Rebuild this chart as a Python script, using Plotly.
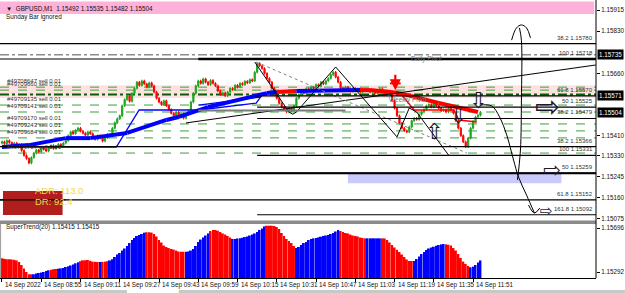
import plotly.graph_objects as go

# ---------------- data ----------------
# close prices of GBPUSD M1 bars, in 1e-5 units above 1.0 (15385 -> 1.15385)
closes_pts = [
    15385, 15378, 15390, 15382, 15372, 15380, 15368, 15375,
    15350, 15330, 15318, 15300,
    15322, 15340, 15352, 15345, 15360, 15355, 15348, 15362, 15370, 15358, 15366, 15375, 15368, 15380, 15390,
    15410, 15425, 15418, 15432, 15440, 15428, 15420,
    15412, 15425, 15418, 15405, 15395, 15410, 15400, 15388, 15402, 15415, 15408,
    15440, 15462, 15478, 15490,
    15530, 15555, 15570, 15548, 15580,
    15600, 15625, 15612, 15630, 15618, 15605, 15622, 15610,
    15585, 15560, 15545, 15535, 15550, 15530,
    15515, 15500, 15490, 15505, 15485, 15498, 15480, 15495, 15510,
    15545, 15580, 15610, 15630,
    15620, 15638, 15625, 15615, 15632, 15620, 15610,
    15590, 15575, 15582, 15570, 15585,
    15600, 15595, 15612, 15605, 15620, 15615, 15628, 15622, 15635, 15630,
    15665, 15700, 15690,
    15680, 15660, 15640, 15625, 15600, 15585, 15560, 15540, 15525,
    15515, 15505, 15520, 15510, 15530,
    15560, 15575, 15590, 15580, 15598, 15590, 15605,
    15600, 15615, 15608, 15625, 15618, 15630, 15640, 15655, 15665, 15645, 15625,
    15600, 15592, 15605, 15595, 15588, 15600, 15590, 15598, 15585, 15595, 15590,
    15595, 15585, 15592, 15580, 15590, 15598, 15585, 15578, 15590, 15580,
    15550, 15520, 15490, 15460, 15440, 15430,
    15425, 15445,
    15470, 15480, 15475, 15495, 15505, 15515,
    15530, 15535, 15525, 15540, 15530,
    15520, 15510, 15515, 15505, 15520, 15512, 15500,
    15470, 15440, 15410, 15385, 15365,
    15400, 15440, 15468, 15485, 15492, 15504,
]
first_open_pts = 15380

# SuperTrend(20) histogram values (same units)
st_pts = [
    15418, 15413, 15409, 15409, 15407, 15404, 15398, 15384, 15356, 15324,
    15292, 15272, 15271, 15271, 15278, 15283, 15287, 15292, 15301, 15308,
    15312, 15317, 15320, 15322, 15325, 15329, 15338, 15344, 15352, 15361,
    15372, 15381, 15391, 15399, 15400, 15402, 15395, 15387, 15386, 15384,
    15384, 15385, 15387, 15391, 15398, 15409, 15430, 15453, 15466, 15489,
    15508, 15531, 15558, 15586, 15604, 15623, 15632, 15641, 15653, 15657,
    15657, 15654, 15641, 15618, 15586, 15563, 15535, 15522, 15512, 15503,
    15498, 15489, 15480, 15478, 15478, 15478, 15480, 15489, 15503, 15531,
    15567, 15590, 15609, 15627, 15646, 15668, 15678, 15678, 15671, 15659,
    15646, 15636, 15623, 15609, 15595, 15595, 15600, 15601, 15606, 15613,
    15618, 15627, 15636, 15646, 15659, 15678, 15691, 15710, 15717, 15717,
    15717, 15714, 15705, 15687, 15650, 15623, 15595, 15577, 15558, 15531,
    15512, 15522, 15540, 15558, 15567, 15586, 15595, 15601, 15604, 15609,
    15616, 15623, 15627, 15632, 15641, 15650, 15664, 15678, 15668, 15659,
    15650, 15646, 15636, 15627, 15623, 15618, 15609, 15604, 15601, 15601,
    15601, 15601, 15601, 15601, 15601, 15601, 15600, 15586, 15563, 15540,
    15517, 15497, 15476, 15453, 15430, 15407, 15393, 15393, 15393, 15411,
    15434, 15457, 15476, 15494, 15508, 15517, 15524, 15533, 15540, 15545,
    15549, 15546, 15542, 15535, 15512, 15489, 15457, 15421, 15388, 15366,
    15347, 15335, 15341, 15356, 15379, 15398,
]
st_label_value = 1.15415
# colour runs of the SuperTrend histogram (r = down trend, b = up trend)
st_runs = [("r", 13), ("b", 7), ("r", 3), ("b", 9), ("r", 8), ("b", 1), ("r", 3),
           ("b", 15), ("r", 16), ("b", 10), ("r", 9), ("b", 14), ("r", 12),
           ("b", 18), ("r", 11), ("b", 6), ("r", 13), ("b", 13), ("r", 10), ("b", 5)]

time_labels = ["14 Sep 2022", "14 Sep 08:55", "14 Sep 09:11", "14 Sep 09:27", "14 Sep 09:43",
               "14 Sep 09:59", "14 Sep 10:15", "14 Sep 10:31", "14 Sep 10:47", "14 Sep 11:03",
               "14 Sep 11:19", "14 Sep 11:35", "14 Sep 11:51"]
time_label_bars = [0, 16, 32, 48, 64, 80, 96, 112, 128, 144, 160, 176, 192]

price_ticks = [1.15915, 1.15830, 1.15660, 1.15410, 1.15330, 1.15245, 1.15160, 1.15075]
boxed_prices = [1.15735, 1.15571, 1.15504]
st_ticks = [1.15696, 1.15292]

# Fibonacci levels: (level, price, first bar; None = whole chart)
fib_levels = [("38.2", 1.15780, None), ("100", 1.15718, None), ("61.8", 1.15570, 103),
              ("50", 1.15525, 104), ("38.2", 1.15479, 104), ("38.2", 1.15366, None),
              ("100", 1.15331, 104), ("50", 1.15259, None), ("61.8", 1.15152, None),
              ("161.8", 1.15092, 104)]
daily_pivot = 1.15735
weekly_pivot = 1.15575
pivot_zone = (1.15561, 1.15613)
target_zone = (141, 1.15219, 1.15259)  # first bar, low, high

order_prices = [1.15605, 1.15593, 1.15533, 1.15505, 1.15457, 1.15429, 1.15401, 1.15340]
order_labels = ["#49708647 sell 0.01", "#49709660 sell 0.01", "#49709135 sell 0.01",
                "#49709141 sell 0.01", "#49709170 sell 0.01", "#49709243 sell 0.01",
                "#49709684 sell 0.01", "#49709707 sell 0.01"]

# moving average knots and segment colours
ma_bars = [0, 11, 26, 36, 51, 67, 72, 84, 108, 112, 120, 146, 150, 162, 178, 194]
ma_vals = [1.15364, 1.15372, 1.15400, 1.15400, 1.15421, 1.15473, 1.15485, 1.15525,
           1.15581, 1.15585, 1.15589, 1.15593, 1.15593, 1.15581, 1.15541, 1.15505]
ma_seg_colors = ["b", "b", "b", "b", "b", "b", "b", "b", "b", "r", "b", "r", "r", "r", "r"]

thin_blue_bars = [0, 46.6, 55.9, 80.2, 103.6, 106.5]
thin_blue_vals = [1.15364, 1.15364, 1.15513, 1.15513, 1.15541, 1.15581]
thin_blue2_bars = [80.2, 105.5]
thin_blue2_vals = [1.15533, 1.15565]
thin_red_bars = [158, 162.3, 168, 184.2, 186.2, 193.5]
thin_red_vals = [1.15590, 1.15581, 1.15513, 1.15513, 1.15473, 1.15465]

trend_bars = [75, 242]
trend_vals = [1.15461, 1.15694]
zigzag_bars = [103, 117, 118.5, 120, 136, 161, 166, 169, 182]
zigzag_vals = [1.15706, 1.15505, 1.15496, 1.15505, 1.15686, 1.15405, 1.15521, 1.15505, 1.15332]
dotted_bars = [103.6, 189.5]
dotted_vals = [1.15706, 1.15340]
grey_line = (80, 140, 1.15511)
hi_line_start = 80

curve_down_bars = [194.7, 199.6, 202.8, 205.7, 208.5, 210.5, 213.8, 217]
curve_down_vals = [1.15533, 1.15529, 1.15485, 1.15413, 1.15312, 1.15244, 1.15171, 1.15099]
head_down_bars = [214.6, 217, 219.2]
head_down_vals = [1.15131, 1.15099, 1.15119]
curve_up_bars = [210.1, 211.3, 211.7, 211.7, 210.9]
curve_up_vals = [1.15232, 1.15352, 1.15553, 1.15794, 1.15843]
head_up_bars = [207.7, 209.7, 211.7, 213.8, 215.4]
head_up_vals = [1.15794, 1.15843, 1.15855, 1.15843, 1.15803]

hollow_arrows = [("⇨", 222.4, 1.15529, 30), ("⇨", 224.3, 1.15272, 21), ("⇨", 221.8, 1.15107, 15),
                 ("⇩", 193.9, 1.15553, 22), ("⇩", 185.8, 1.15489, 22), ("⇧", 176.1, 1.15425, 22)]
signal_bar, signal_price = 160.3, 1.15592

# ---------------- figure ----------------
FONT = "Liberation Sans"
XMIN, XMAX = -0.81, 242.1
TOP_RANGE = [1.150629, 1.159552]
SUB_RANGE = [1.152369, 1.157327]
H_PLOT = 278.0


def py(pix):
    return (H_PLOT - pix) / H_PLOT


n = len(closes_pts)
idx = list(range(n))
close = [1 + v / 1e5 for v in closes_pts]
opens = [1 + first_open_pts / 1e5] + close[:-1]
high = [max(o, c) + 0.00005 for o, c in zip(opens, close)]
low = [min(o, c) - 0.00005 for o, c in zip(opens, close)]

fig = go.Figure()

fig.add_trace(go.Candlestick(
    x=idx, open=opens, high=high, low=low, close=close,
    increasing=dict(line=dict(color="#1FA51F", width=1), fillcolor="#1FA51F"),
    decreasing=dict(line=dict(color="#FF0000", width=1), fillcolor="#FF0000"),
    xaxis="x", yaxis="y", hoverinfo="skip", showlegend=False))

# thin blue / red channel lines
fig.add_trace(go.Scatter(x=thin_blue_bars, y=thin_blue_vals, mode="lines",
                         line=dict(color="#0000FF", width=1.3), yaxis="y", showlegend=False))
fig.add_trace(go.Scatter(x=thin_blue2_bars, y=thin_blue2_vals, mode="lines",
                         line=dict(color="#0000FF", width=1.3), yaxis="y", showlegend=False))
fig.add_trace(go.Scatter(x=thin_red_bars, y=thin_red_vals, mode="lines",
                         line=dict(color="#FF0000", width=1.5), yaxis="y", showlegend=False))

# thick moving average
for k, col in enumerate(ma_seg_colors):
    fig.add_trace(go.Scatter(x=ma_bars[k:k + 2], y=ma_vals[k:k + 2], mode="lines",
                             line=dict(color="#0000FF" if col == "b" else "#FF0000", width=4),
                             yaxis="y", showlegend=False))

# trend line, zigzag, dotted
fig.add_trace(go.Scatter(x=trend_bars, y=trend_vals, mode="lines",
                         line=dict(color="#000000", width=1), yaxis="y", showlegend=False))
fig.add_trace(go.Scatter(x=zigzag_bars, y=zigzag_vals, mode="lines",
                         line=dict(color="#000000", width=1), yaxis="y", showlegend=False))
fig.add_trace(go.Scatter(x=dotted_bars, y=dotted_vals, mode="lines",
                         line=dict(color="#808080", width=1, dash="dot"), yaxis="y", showlegend=False))
# projection curves
for bx, bv in [(curve_down_bars, curve_down_vals), (head_down_bars, head_down_vals),
               (curve_up_bars, curve_up_vals), (head_up_bars, head_up_vals)]:
    fig.add_trace(go.Scatter(x=bx, y=bv, mode="lines", line=dict(color="#000000", width=1, shape="spline"),
                             yaxis="y", showlegend=False))
# signal crossbar
fig.add_trace(go.Scatter(x=[signal_bar - 2.2, signal_bar + 2.2], y=[signal_price + 0.00028] * 2, mode="lines",
                         line=dict(color="#FF0000", width=2), yaxis="y", showlegend=False))

# SuperTrend histogram
st_colors = []
for c, cnt in st_runs:
    st_colors += ["#FF0000" if c == "r" else "#0000FF"] * cnt
st_base = SUB_RANGE[0]
fig.add_trace(go.Bar(x=idx, y=[1 + v / 1e5 - st_base for v in st_pts], base=st_base,
                     marker=dict(color=st_colors, line=dict(width=0)),
                     xaxis="x", yaxis="y2", hoverinfo="skip", showlegend=False))

shapes = []
annotations = []

# background zones
shapes.append(dict(type="rect", xref="paper", yref="y", x0=0, x1=1, y0=pivot_zone[0], y1=pivot_zone[1],
                   fillcolor="#FFE1E1", line=dict(width=0), layer="below"))
shapes.append(dict(type="rect", xref="x", yref="y", x0=target_zone[0], x1=228, y0=target_zone[1],
                   y1=target_zone[2], fillcolor="#C9C9FB", line=dict(width=0), layer="below"))

# order lines
for p in order_prices:
    shapes.append(dict(type="line", xref="paper", yref="y", x0=0, x1=1, y0=p, y1=p,
                       line=dict(color="#3CA03C", width=1, dash="dash"), layer="below"))
for p, t in zip(order_prices, order_labels):
    annotations.append(dict(xref="paper", yref="y", x=0.008, y=p, yshift=1, text=t, showarrow=False,
                            xanchor="left", yanchor="bottom", font=dict(family=FONT, size=6, color="#333333")))

# pivots
shapes.append(dict(type="line", xref="paper", yref="y", x0=0, x1=1, y0=daily_pivot, y1=daily_pivot,
                   line=dict(color="#8C8C8C", width=1.5, dash="dashdot"), layer="below"))
shapes.append(dict(type="line", xref="paper", yref="y", x0=0, x1=1, y0=weekly_pivot, y1=weekly_pivot,
                   line=dict(color="#0A5A0A", width=2, dash="dashdot"), layer="below"))
annotations.append(dict(xref="x", yref="y", x=166, y=daily_pivot, yshift=-4, text="Daily Pivot", showarrow=False,
                        xanchor="left", yanchor="middle", font=dict(family=FONT, size=6.5, color="#777777")))
annotations.append(dict(xref="x", yref="y", x=157, y=weekly_pivot, yshift=-5, text="Weekly Pivot", showarrow=False,
                        xanchor="left", yanchor="middle", font=dict(family=FONT, size=6.5, color="#777777")))

# fibonacci levels
for lvl, p, start in fib_levels:
    if start is None:
        shapes.append(dict(type="line", xref="paper", yref="y", x0=0, x1=1, y0=p, y1=p,
                           line=dict(color="#000000", width=1.2)))
    else:
        shapes.append(dict(type="line", xref="x", yref="y", x0=start, x1=XMAX, y0=p, y1=p,
                           line=dict(color="#000000", width=1.2)))
    annotations.append(dict(xref="x", yref="y", x=241.5, y=p, yshift=1, text=f"{lvl} {p:.5f}", showarrow=False,
                            xanchor="right", yanchor="bottom", font=dict(family=FONT, size=6, color="#333333")))
# high line (thick) and grey line
hp = fib_levels[1][1]
shapes.append(dict(type="line", xref="x", yref="y", x0=hi_line_start, x1=XMAX, y0=hp, y1=hp,
                   line=dict(color="#000000", width=2.5)))
shapes.append(dict(type="line", xref="x", yref="y", x0=grey_line[0], x1=grey_line[1], y0=grey_line[2],
                   y1=grey_line[2], line=dict(color="#7A7A7A", width=2)))
shapes.append(dict(type="line", xref="paper", yref="y", x0=0, x1=1, y0=fib_levels[7][1], y1=fib_levels[7][1],
                   line=dict(color="#000000", width=2)))

# hollow arrows
for ch, bx, p, sz in hollow_arrows:
    annotations.append(dict(xref="x", yref="y", x=bx, y=p, text=ch, showarrow=False, borderpad=0,
                            font=dict(family="DejaVu Sans", size=sz, color="#1A1A2E")))
# red signal arrow
annotations.append(dict(xref="x", yref="y", x=signal_bar, y=signal_price, ax=0, ay=-17, showarrow=True,
                        arrowhead=2, arrowsize=1, arrowwidth=2.2, arrowcolor="#FF0000", text=""))

# title bar
shapes.append(dict(type="rect", xref="paper", yref="paper", x0=0, x1=0.997, y0=py(14), y1=py(1.5),
                   fillcolor="#FFB2D9", line=dict(width=0)))
annotations.append(dict(xref="paper", yref="paper", x=0.006, y=py(8), text="▼  GBPUSD,M1  1.15492 1.15535 1.15482 1.15504",
                        showarrow=False, xanchor="left", yanchor="middle", font=dict(family=FONT, size=6.3, color="#111111")))
annotations.append(dict(xref="paper", yref="paper", x=0.006, y=py(17), text="Sunday Bar ignored",
                        showarrow=False, xanchor="left", yanchor="middle", font=dict(family=FONT, size=6.3, color="#111111")))

# ADR box
shapes.append(dict(type="rect", xref="paper", yref="paper", x0=0.005, x1=0.105, y0=py(215), y1=py(191),
                   fillcolor="#B01E1E", line=dict(width=0)))
annotations.append(dict(xref="paper", yref="paper", x=0.055, y=py(198), text="ADR: 113.0", showarrow=False,
                        font=dict(family=FONT, size=9.5, color="#F2D84A")))
annotations.append(dict(xref="paper", yref="paper", x=0.055, y=py(208.5), text="DR: 92.4", showarrow=False,
                        font=dict(family=FONT, size=9.5, color="#F2D84A")))
# line across ADR box (61.8 level passes over it)
shapes.append(dict(type="line", xref="paper", yref="y", x0=0, x1=0.11, y0=fib_levels[8][1], y1=fib_levels[8][1],
                   line=dict(color="#000000", width=1.2)))

# panel separator, frame lines
shapes.append(dict(type="rect", xref="paper", yref="paper", x0=0, x1=1, y0=py(224), y1=py(220.5),
                   fillcolor="#8A8A8A", line=dict(width=0)))
shapes.append(dict(type="line", xref="paper", yref="paper", x0=1, x1=1, y0=0, y1=1,
                   line=dict(color="#000000", width=1)))
shapes.append(dict(type="line", xref="paper", yref="paper", x0=0.001, x1=0.001, y0=0, y1=py(224),
                   line=dict(color="#9A9A9A", width=1)))
shapes.append(dict(type="rect", xref="paper", yref="paper", x0=-0.01, x1=0.213, y0=py(293), y1=py(290),
                   fillcolor="#C8C8C8", line=dict(width=0)))
shapes.append(dict(type="rect", xref="paper", yref="paper", x0=0.30, x1=1.05, y0=py(293), y1=py(290),
                   fillcolor="#C8C8C8", line=dict(width=0)))

# SuperTrend label
annotations.append(dict(xref="paper", yref="paper", x=0.006, y=py(227),
                        text=f"SuperTrend(20) {st_label_value:.5f} {st_label_value:.5f}",
                        showarrow=False, xanchor="left", yanchor="middle", font=dict(family=FONT, size=6.3, color="#111111")))

# boxed price labels on the right axis
for p in boxed_prices:
    annotations.append(dict(xref="paper", yref="y", x=1.002, y=p, text=f"{p:.5f}", showarrow=False,
                            xanchor="left", yanchor="middle", bgcolor="#000000", borderpad=1,
                            font=dict(family=FONT, size=6.3, color="#FFFFFF")))

# time labels
for b, t in zip(time_label_bars, time_labels):
    annotations.append(dict(xref="x", yref="paper", x=b, y=py(279), text=t, showarrow=False,
                            xanchor="left", yanchor="top", xshift=1, font=dict(family=FONT, size=6.3, color="#111111")))

fig.update_layout(
    width=625, height=293,
    margin=dict(l=0, r=25, t=0, b=15),
    paper_bgcolor="#FFFFFF", plot_bgcolor="#FFFFFF",
    showlegend=False, bargap=0.2,
    shapes=shapes, annotations=annotations,
    xaxis=dict(domain=[0, 1], range=[XMIN, XMAX], anchor="y2", showgrid=False, zeroline=False,
               showticklabels=False, ticks="outside", ticklen=3, tickcolor="#000000",
               tickvals=time_label_bars, showline=True, linecolor="#000000", linewidth=1,
               rangeslider=dict(visible=False)),
    yaxis=dict(domain=[py(222), 1], range=TOP_RANGE, side="right", anchor="x", showgrid=False, zeroline=False,
               tickvals=price_ticks, ticktext=[f"{v:.5f}" for v in price_ticks], ticks="outside", ticklen=3,
               tickcolor="#000000", tickfont=dict(family=FONT, size=6.3, color="#111111"), showline=False),
    yaxis2=dict(domain=[0, py(224)], range=SUB_RANGE, side="right", anchor="x", showgrid=False, zeroline=False,
                tickvals=st_ticks, ticktext=[f"{v:.5f}" for v in st_ticks], ticks="outside", ticklen=3,
                tickcolor="#000000", tickfont=dict(family=FONT, size=6.3, color="#111111"), showline=False),
)

fig.write_html("out.html")
